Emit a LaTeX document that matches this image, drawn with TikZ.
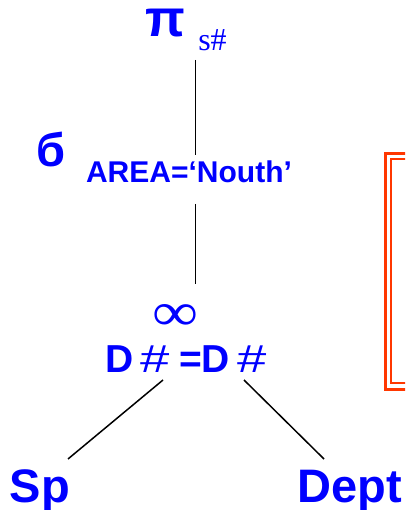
\documentclass[tikz,border=0pt]{standalone}
\usepackage{fontspec}
\setmainfont{Liberation Sans}
\newfontfamily\subfont{Liberation Serif}
\usepackage{tikz}
\definecolor{opblue}{RGB}{0,0,255}
\definecolor{boxred}{RGB}{255,55,0}
\newcommand\setfs[1]{\fontsize{#1}{#1}\selectfont}
\newcommand\widehash{{\mdseries\scalebox{1.35}[1]{\#}}}

\begin{document}
\begin{tikzpicture}[x=1pt,y=1pt,
  op/.style={text=opblue,inner sep=0pt,anchor=base,font=\bfseries},
  edge/.style={line width=1.9pt},
  leafedge/.style={line width=1.5pt}]
  \useasboundingbox (0,0) rectangle (405,510);
  \clip (0,0) rectangle (405,510);
  % projection
  \node[op,font=\bfseries\setfs{52},text height=27pt] (proj) at (165.5,473) {π};
  \node[op,font=\subfont\setfs{32}] (projattr) at (212.5,459) {s\#};
  % selection
  \node[op,font=\bfseries\setfs{47}] (sel) at (51.5,343) {б};
  \node[op,font=\bfseries\setfs{30}] (selcond) at (189,327) {AREA=‘Nouth’};
  % join
  \node[op,anchor=center,font=\mdseries] (joinsym) at (175.5,192.5)
    {\resizebox{46pt}{26pt}{\subfont\setfs{40}∞}};
  \node[op,font=\bfseries\setfs{39}] (joincond) at (186,137)
    {D\kern7pt\widehash\kern9pt=D\kern7pt\widehash};
  % relations
  \node[op,font=\bfseries\setfs{47}] (sp) at (40,8) {Sp};
  \node[op,font=\bfseries\setfs{47}] (dept) at (350,8) {Dept};
  % tree edges
  \coordinate (axis) at (195.5,0);
  \coordinate (projfoot) at (axis |- 0,450);
  \coordinate (selhead) at (axis |- 0,355);
  \coordinate (selfoot) at (axis |- 0,306);
  \coordinate (joinhead) at (axis |- 0,226);
  \coordinate (joinl) at (163,130);
  \coordinate (joinr) at (244,130);
  \coordinate (sptop) at (68,51);
  \coordinate (depttop) at (324,51);
  \draw[edge] (projfoot) -- (selhead);
  \draw[edge] (selfoot) -- (joinhead);
  \draw[leafedge] (joinl) -- (sptop);
  \draw[leafedge] (joinr) -- (depttop);
  % framed panel at the right
  \draw[boxred,line width=3pt] (385.5,356.5) rectangle (430,120.5);
  \draw[boxred,line width=2pt] (391,351) rectangle (430,126.5);
\end{tikzpicture}
\end{document}
